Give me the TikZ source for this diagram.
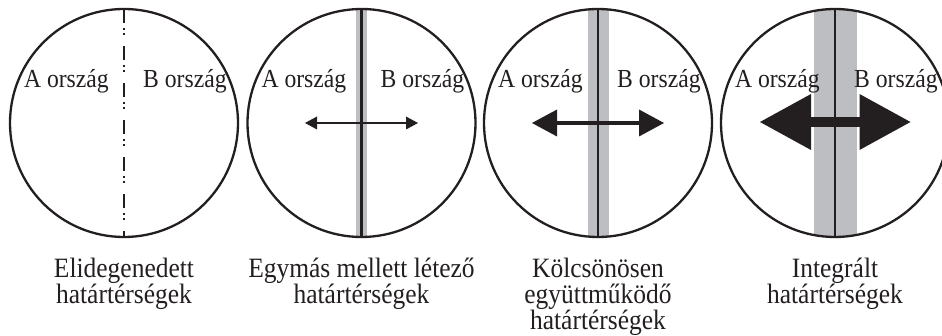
\documentclass[tikz,border=0pt]{standalone}
\usepackage{fontspec}
\setmainfont{Liberation Serif}[FakeStretch=0.91]
\usetikzlibrary{arrows.meta}
\definecolor{bandgray}{RGB}{189,190,194}
\definecolor{ink}{RGB}{35,31,32}
\begin{document}
\begin{tikzpicture}[x=1pt,y=-1pt,
  ring/.style={circle,draw=ink,line width=2.3pt,minimum size=228pt,inner sep=0pt,outer sep=0pt},
  lbl/.style={inner sep=0pt,font=\fontsize{26}{26}\selectfont,text=ink},
  capt/.style={inner sep=0pt,align=center,font=\fontsize{28}{25.5}\selectfont,text=ink},
  band/.style={fill=bandgray},
  border/.style={draw=ink},
  dashdotdot/.style={draw=ink,line width=2.6pt,dash pattern=on 14pt off 5pt on 2.5pt off 2.5pt on 2.5pt off 10.5pt},
  twoway/.style args={#1/#2/#3}{draw=ink,line width=#1,
    {Triangle[length=#2,width=#3,line width=0pt]}-{Triangle[length=#2,width=#3,line width=0pt]}}
]
\useasboundingbox (0,0) rectangle (942,336);

% ---------- circle positions
\coordinate (p1) at (124,123);
\coordinate (p2) at (361.5,123);
\coordinate (p3) at (598,123);
\coordinate (p4) at (835,123);

% ---------- gray bands (clipped to circles)
\begin{scope}
  \clip (p2) circle[radius=114];
  \fill[band] (356,0) rectangle (367,336);
\end{scope}
\begin{scope}
  \clip (p3) circle[radius=114];
  \fill[band] (587.5,0) rectangle (608.8,336);
\end{scope}
\begin{scope}
  \clip (p4) circle[radius=114];
  \fill[band] (814,0) rectangle (856.5,336);
\end{scope}

% ---------- circles
\node[ring] (c1) at (p1) {};
\node[ring] (c2) at (p2) {};
\node[ring] (c3) at (p3) {};
\node[ring] (c4) at (p4) {};

% ---------- border lines
\draw[dashdotdot] (c1.north) -- (c1.south);
\draw[border,line width=2.6pt] (c2.north) -- (c2.south);
\draw[border,line width=2pt] (c3.north) -- (c3.south);
\draw[border,line width=2pt] (c4.north) -- (c4.south);

% ---------- country labels
\foreach \i/\x in {1/124,2/361.5,3/598,4/835}{
  \node[lbl,anchor=base east] (a\i) at (\x-15,88) {A ország};
  \node[lbl,anchor=base west] (b\i) at (\x+19,88) {B ország};
}

% ---------- arrows
\coordinate (l2) at (305,123);   \coordinate (r2) at (418,123);
\coordinate (l3) at (532,123);   \coordinate (r3) at (664,123);
\coordinate (l4) at (760,122);   \coordinate (r4) at (910.5,122);
\draw[twoway={2.5pt/12pt/13pt}] (l2) -- (r2);
\draw[twoway={4.7pt/25pt/27pt}] (l3) -- (r3);
\draw[twoway={9.3pt/51pt/56pt}] (l4) -- (r4);

% ---------- captions (base anchor = baseline of last line)
\node[capt,anchor=base] (t1) at (124,304) {Elidegenedett\\határtérségek};
\node[capt,anchor=base] (t2) at (361.5,304) {Egymás mellett létező\\határtérségek};
\node[capt,anchor=base] (t3) at (598,330) {Kölcsönösen\\együttműködő\\határtérségek};
\node[capt,anchor=base] (t4) at (835,304) {Integrált\\határtérségek};
\end{tikzpicture}
\end{document}
